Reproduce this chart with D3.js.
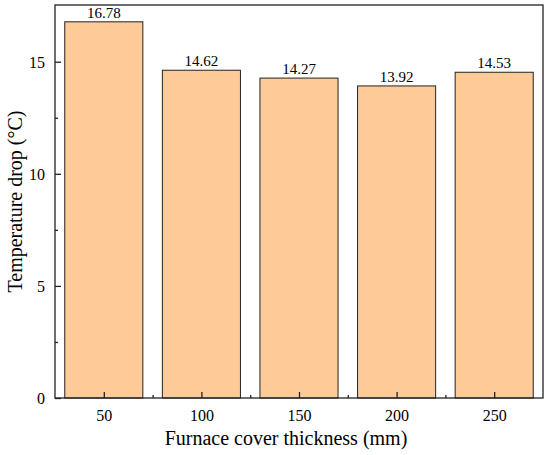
<!DOCTYPE html>
<html>
<head>
<meta charset="utf-8">
<script src="https://cdn.jsdelivr.net/npm/d3@7"></script>
<style>
body{margin:0;background:#fff;}
text{font-family:"Liberation Serif","Times New Roman",serif;fill:#000;}
</style>
</head>
<body>
<svg id="chart"></svg>
<script>
// data
var thickness = [50, 100, 150, 200, 250];
var tempDrop = [16.78, 14.62, 14.27, 13.92, 14.53];
var valueLabels = ['16.78', '14.62', '14.27', '13.92', '14.53'];
var yTicks = [0, 5, 10, 15];
var yMinorTicks = [2.5, 7.5, 12.5];
var xMinorTicks = [75, 125, 175, 225];

var width = 550, height = 455;
var plot = {left: 55, right: 543, top: 5, bottom: 398};

var svg = d3.select('#chart')
	.attr('width', width)
	.attr('height', height);

var xScale = d3.scaleLinear().domain([25, 275]).range([plot.left, plot.right]);
var yScale = d3.scaleLinear().domain([0, 17.53]).range([plot.bottom, plot.top]);
var barHalf = 20; // bar half width in x units

// bars
svg.append('g').selectAll('rect')
	.data(tempDrop)
	.enter().append('rect')
	.attr('x', function(d, i){ return xScale(thickness[i] - barHalf); })
	.attr('width', xScale(barHalf * 2) - xScale(0))
	.attr('y', function(d){ return yScale(d); })
	.attr('height', function(d){ return yScale(0) - yScale(d); })
	.style('fill', '#FECB98')
	.style('stroke', '#222')
	.style('stroke-width', 1);

// value labels
svg.append('g').selectAll('text')
	.data(tempDrop)
	.enter().append('text')
	.attr('x', function(d, i){ return xScale(thickness[i]); })
	.attr('y', function(d){ return yScale(d) - 4; })
	.attr('text-anchor', 'middle')
	.style('font-size', '15px')
	.text(function(d, i){ return valueLabels[i]; });

// axes, ticks point inward
var axisX = d3.axisBottom(xScale).tickValues(thickness).tickSizeInner(-6).tickSizeOuter(0).tickPadding(12);
var axisXMinor = d3.axisBottom(xScale).tickValues(xMinorTicks).tickSizeInner(-3).tickSizeOuter(0).tickFormat('');
var axisY = d3.axisLeft(yScale).tickValues(yTicks).tickSizeInner(-6).tickSizeOuter(0).tickPadding(10);
var axisYMinor = d3.axisLeft(yScale).tickValues(yMinorTicks).tickSizeInner(-3).tickSizeOuter(0).tickFormat('');

var gx = svg.append('g').attr('transform', 'translate(0,' + plot.bottom + ')').call(axisX);
svg.append('g').attr('transform', 'translate(0,' + plot.bottom + ')').call(axisXMinor);
var gy = svg.append('g').attr('transform', 'translate(' + plot.left + ',0)').call(axisY);
svg.append('g').attr('transform', 'translate(' + plot.left + ',0)').call(axisYMinor);

svg.selectAll('.domain').remove();
svg.selectAll('.tick line').style('stroke', '#222').style('stroke-width', 1.3);
gx.selectAll('text').style('font-size', '16px').style('font-family', '"Liberation Serif",serif');
gy.selectAll('text').style('font-size', '16px').style('font-family', '"Liberation Serif",serif').attr('dy', '0.35em');

// frame
svg.append('rect')
	.attr('x', plot.left)
	.attr('y', plot.top)
	.attr('width', plot.right - plot.left)
	.attr('height', plot.bottom - plot.top)
	.style('fill', 'none')
	.style('stroke', '#222')
	.style('stroke-width', 1.3);

// axis titles
svg.append('text')
	.attr('x', (plot.left + plot.right) / 2 - 13)
	.attr('y', 445)
	.attr('text-anchor', 'middle')
	.style('font-size', '20px')
	.text('Furnace cover thickness (mm)');

svg.append('text')
	.attr('transform', 'translate(22,' + ((plot.top + plot.bottom) / 2) + ') rotate(-90)')
	.attr('text-anchor', 'middle')
	.style('font-size', '20px')
	.text('Temperature drop (°C)');
</script>
</body>
</html>
